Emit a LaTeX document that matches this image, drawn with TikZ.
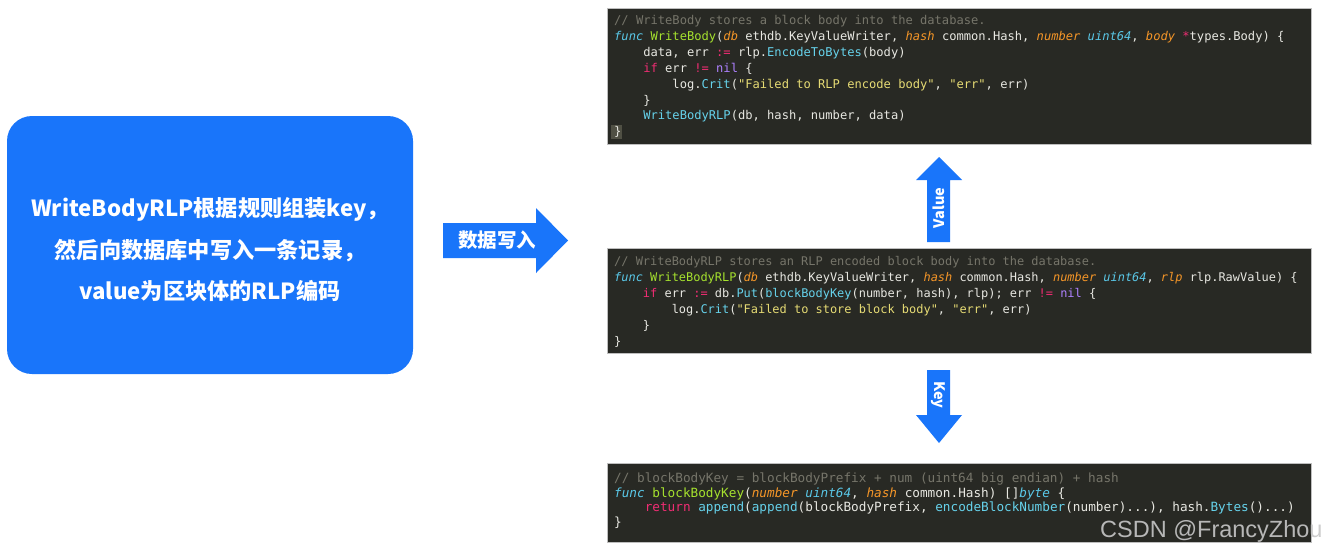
\documentclass[tikz,border=0pt]{standalone}
\usepackage{fontspec}
\setmonofont{DejaVu Sans Mono}
\newfontfamily\cjk{Noto Sans CJK SC}
\newfontfamily\csdnfont{Liberation Sans}
\definecolor{mainblue}{RGB}{25,117,250}
\definecolor{codebg}{RGB}{40,41,36}
\definecolor{codeedge}{RGB}{190,190,190}
\definecolor{ctext}{RGB}{232,232,226}
\definecolor{ccom}{RGB}{118,117,106}
\definecolor{ckw}{RGB}{90,200,232}
\definecolor{cfn}{RGB}{166,226,46}
\definecolor{cpar}{RGB}{245,150,40}
\definecolor{cop}{RGB}{240,45,115}
\definecolor{cnil}{RGB}{174,129,255}
\definecolor{cstr}{RGB}{230,219,116}
\definecolor{ccall}{RGB}{102,210,235}
\definecolor{cursorbg}{RGB}{80,80,68}
\newcommand\hlC[1]{\textcolor{ccom}{#1}}
\newcommand\hlK[1]{\textcolor{ckw}{\itshape #1}}
\newcommand\hlF[1]{\textcolor{cfn}{#1}}
\newcommand\hlP[1]{\textcolor{cpar}{\itshape #1}}
\newcommand\hlO[1]{\textcolor{cop}{#1}}
\newcommand\hlN[1]{\textcolor{cnil}{#1}}
\newcommand\hlS[1]{\textcolor{cstr}{#1}}
\newcommand\hlM[1]{\textcolor{ccall}{#1}}
\newcommand\spc[1]{\hspace*{#1\fontcharwd\font`0}}
\tikzset{
  codebox/.style={fill=codebg, draw=codeedge, line width=0.6pt},
  cbase/.style={anchor=base west, inner sep=0pt, text=ctext},
  cone/.style={cbase, font=\ttfamily\frenchspacing\fontsize{12.1}{14}\selectfont},
  ctwo/.style={cbase, font=\ttfamily\frenchspacing\fontsize{11.95}{14}\selectfont},
  cthree/.style={cbase, font=\ttfamily\frenchspacing\fontsize{12.7}{14}\selectfont},
  blockarrow/.style={fill=mainblue, draw=none},
  arrowlabel/.style={text=white, inner sep=0pt, font=\cjk\bfseries\fontsize{14.5}{16}\selectfont},
}
\begin{document}
\begin{tikzpicture}[x=1pt,y=-1pt]
\useasboundingbox[fill=white] (0,0) rectangle (1325,552);

% left description box
\node[fill=mainblue, rounded corners=25pt, minimum width=406pt, minimum height=258pt, inner sep=0pt] (desc) at (210,245) {};
\node[text=white, align=center, inner sep=0pt, font=\cjk\bfseries\fontsize{22.2}{41.5}\selectfont] (desctext) at (210,250)
  {WriteBodyRLP根据规则组装key，\\然后向数据库中写入一条记录，\\value为区块体的RLP编码};

% right arrow
\fill[blockarrow] (443,223) -- (536,223) -- (536,208) -- (568,240.5) -- (536,273) -- (536,258) -- (443,258) -- cycle;
\node[arrowlabel, font=\cjk\bfseries\fontsize{19.5}{22}\selectfont] (writelbl) at (497,240.5) {数据写入};

% code block 1
\filldraw[codebox] (607,8) rectangle (1311,144);
\fill[cursorbg] (611,125) rectangle (622,139);
\node[cone] (a1) at (614,24) {\hlC{// WriteBody stores a block body into the database.}};
\node[cone] (a2) at (614,40) {\hlK{func} \hlF{WriteBody}(\hlP{db} ethdb.KeyValueWriter, \hlP{hash} common.Hash, \hlP{number} \hlK{uint64}, \hlP{body} \hlO{*}types.Body) \{};
\node[cone] (a3) at (614,56) {\spc{4}data, err \hlO{:=} rlp.\hlM{EncodeToBytes}(body)};
\node[cone] (a4) at (614,72) {\spc{4}\hlO{if} err \hlO{!=} \hlN{nil} \{};
\node[cone] (a5) at (614,88) {\spc{8}log.\hlM{Crit}(\hlS{"Failed to RLP encode body"}, \hlS{"err"}, err)};
\node[cone] (a6) at (614,104) {\spc{4}\}};
\node[cone] (a7) at (614,119.5) {\spc{4}\hlM{WriteBodyRLP}(db, hash, number, data)};
\node[cone] (a8) at (614,135) {\}};

% value arrow (up)
\fill[blockarrow] (927,242) -- (927,180) -- (916,180) -- (939,157) -- (962,180) -- (950,180) -- (950,242) -- cycle;
\node[arrowlabel, rotate=90] (valuelbl) at (938.5,208) {Value};

% code block 2
\filldraw[codebox] (607,248) rectangle (1311,353);
\node[ctwo] (b1) at (614,265.5) {\hlC{// WriteBodyRLP stores an RLP encoded block body into the database.}};
\node[ctwo] (b2) at (614,281.5) {\hlK{func} \hlF{WriteBodyRLP}(\hlP{db} ethdb.KeyValueWriter, \hlP{hash} common.Hash, \hlP{number} \hlK{uint64}, \hlP{rlp} rlp.RawValue) \{};
\node[ctwo] (b3) at (614,297) {\spc{4}\hlO{if} err \hlO{:=} db.\hlM{Put}(\hlM{blockBodyKey}(number, hash), rlp); err \hlO{!=} \hlN{nil} \{};
\node[ctwo] (b4) at (614,313) {\spc{8}log.\hlM{Crit}(\hlS{"Failed to store block body"}, \hlS{"err"}, err)};
\node[ctwo] (b5) at (614,329) {\spc{4}\}};
\node[ctwo] (b6) at (614,345.5) {\}};

% key arrow (down)
\fill[blockarrow] (927,370) -- (950,370) -- (950,415) -- (962,415) -- (939,443) -- (916,415) -- (927,415) -- cycle;
\node[arrowlabel, rotate=-90] (keylbl) at (938.5,395) {Key};

% code block 3
\filldraw[codebox] (607,463) rectangle (1311,542);
\node[cthree] (c1) at (614,482) {\hlC{// blockBodyKey = blockBodyPrefix + num (uint64 big endian) + hash}};
\node[cthree] (c2) at (614,497) {\hlK{func} \hlF{blockBodyKey}(\hlP{number} \hlK{uint64}, \hlP{hash} common.Hash) []\hlK{byte} \{};
\node[cthree] (c3) at (614,511.5) {\spc{4}\hlO{return} \hlM{append}(\hlM{append}(blockBodyPrefix, \hlM{encodeBlockNumber}(number)...), hash.\hlM{Bytes}()...)};
\node[cthree] (c4) at (614,526) {\}};

% signature
\node[anchor=base west, inner sep=0pt, text=white!78!black, opacity=0.9, font=\csdnfont\fontsize{23.5}{25}\selectfont] (csdn) at (1100,537) {CSDN @FrancyZhou};
\end{tikzpicture}
\end{document}
